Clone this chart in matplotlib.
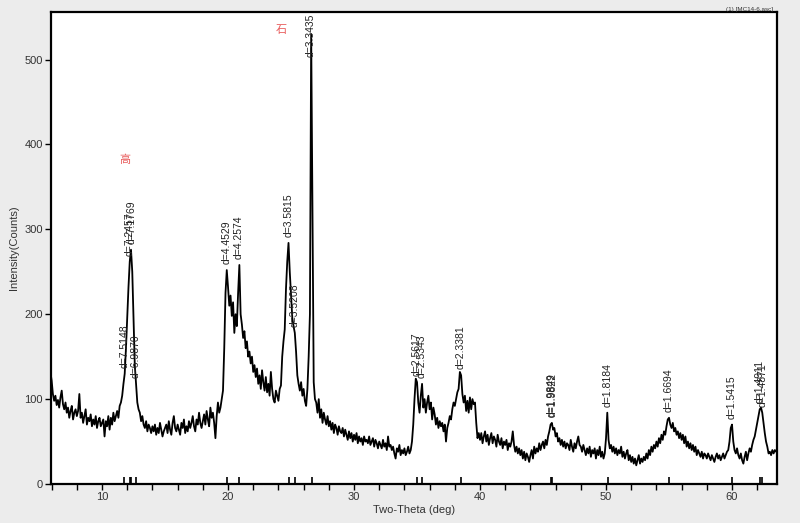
import numpy as np
import matplotlib
matplotlib.use("Agg")
import matplotlib.pyplot as plt
from matplotlib.ticker import MultipleLocator

plt.rcParams['font.family'] = ['Liberation Sans', 'Noto Sans CJK SC', 'DejaVu Sans']

# XRD scan: start angle, step and counts
start_angle = 5.9
step = 0.1
counts = [
    132,                                                # 5.9
    122, 106, 98, 104, 93, 99, 90, 102, 110, 94,        # 6.0
    88, 96, 84, 90, 78, 86, 92, 76, 84, 88,             # 7.0
    80, 86, 106, 78, 84, 72, 80, 88, 70, 78,            # 8.0
    74, 82, 68, 76, 70, 80, 66, 74, 78, 68,             # 9.0
    72, 76, 56, 74, 68, 80, 64, 78, 70, 84,             # 10.0
    74, 80, 86, 78, 92, 96, 104, 118, 130, 160,         # 11.0
    196, 232, 262, 276, 250, 196, 140, 118, 96, 88,     # 12.0
    84, 74, 80, 70, 66, 74, 62, 70, 66, 60,             # 13.0
    68, 62, 70, 58, 66, 60, 72, 64, 56, 62,             # 14.0
    66, 70, 60, 74, 64, 58, 72, 80, 66, 62,             # 15.0
    70, 64, 58, 72, 66, 76, 60, 68, 62, 74,             # 16.0
    66, 72, 80, 68, 62, 76, 70, 84, 72, 66,             # 17.0
    74, 82, 70, 86, 76, 68, 90, 78, 84, 72,             # 18.0
    54, 80, 96, 84, 90, 100, 110, 160, 225, 252,        # 19.0
    232, 210, 222, 198, 214, 178, 200, 186, 225, 258,   # 20.0
    200, 188, 172, 180, 160, 168, 150, 156, 142, 150,   # 21.0
    132, 140, 126, 136, 118, 128, 112, 134, 120, 110,   # 22.0
    126, 108, 118, 104, 132, 112, 100, 96, 110, 104,    # 23.0
    98, 112, 116, 150, 168, 182, 230, 262, 284, 250,    # 24.0
    222, 196, 186, 178, 156, 128, 118, 110, 120, 104,   # 25.0
    112, 98, 92, 112, 150, 200, 530, 320, 120, 100,     # 26.0
    96, 84, 100, 78, 88, 72, 84, 76, 70, 80,            # 27.0
    68, 74, 64, 72, 60, 70, 66, 58, 68, 62,             # 28.0
    60, 66, 56, 64, 58, 52, 62, 54, 60, 50,             # 29.0
    58, 52, 60, 48, 56, 50, 54, 46, 56, 50,             # 30.0
    52, 48, 56, 46, 50, 54, 44, 52, 48, 42,             # 31.0
    50, 46, 42, 52, 44, 48, 40, 56, 44, 46,             # 32.0
    40, 44, 36, 30, 42, 38, 46, 34, 40, 36,             # 33.0
    42, 34, 38, 44, 36, 40, 50, 70, 100, 124,           # 34.0
    120, 96, 84, 104, 118, 90, 100, 84, 96, 104,        # 35.0
    88, 96, 76, 90, 82, 70, 78, 66, 74, 68,             # 36.0
    72, 62, 70, 50, 66, 72, 80, 76, 88, 96,             # 37.0
    92, 100, 108, 112, 132, 128, 106, 96, 104, 86,      # 38.0
    98, 84, 102, 88, 100, 94, 96, 72, 54, 60,           # 39.0
    52, 60, 48, 56, 62, 50, 58, 46, 54, 60,             # 40.0
    48, 56, 52, 44, 58, 50, 46, 54, 42, 50,             # 41.0
    46, 52, 40, 48, 44, 50, 62, 46, 38, 44,             # 42.0
    36, 42, 34, 40, 30, 38, 28, 36, 32, 26,             # 43.0
    34, 40, 30, 44, 36, 42, 38, 48, 40, 46,             # 44.0
    50, 42, 52, 46, 56, 62, 70, 72, 64, 66,             # 45.0
    56, 60, 50, 54, 46, 52, 44, 50, 42, 48,             # 46.0
    46, 40, 52, 44, 38, 48, 42, 50, 56, 46,             # 47.0
    44, 38, 46, 40, 34, 42, 36, 44, 32, 40,             # 48.0
    36, 42, 30, 40, 34, 44, 32, 38, 30, 36,             # 49.0
    54, 84, 52, 42, 46, 38, 44, 36, 42, 34,             # 50.0
    40, 36, 44, 32, 38, 30, 36, 40, 28, 34,             # 51.0
    26, 32, 24, 30, 22, 28, 34, 24, 30, 26,             # 52.0
    32, 28, 36, 30, 40, 34, 44, 38, 46, 42,             # 53.0
    50, 44, 54, 48, 58, 52, 62, 58, 68, 76,             # 54.0
    78, 70, 66, 72, 62, 66, 58, 62, 54, 60,             # 55.0
    52, 58, 48, 56, 44, 50, 42, 48, 40, 46,             # 56.0
    38, 44, 34, 40, 36, 32, 38, 30, 36, 34,             # 57.0
    30, 36, 32, 28, 34, 30, 26, 32, 36, 30,             # 58.0
    34, 28, 32, 36, 30, 34, 38, 40, 50, 66,             # 59.0
    70, 50, 40, 36, 42, 34, 30, 36, 28, 24,             # 60.0
    32, 38, 28, 36, 42, 38, 46, 52, 56, 64,             # 61.0
    72, 80, 88, 90, 84, 72, 60, 50, 44, 36,             # 62.0
    38, 34, 40, 36, 40, 38, 40,                         # 63.0
]

# labelled peaks (2-theta, d-spacing text)
peak_pos = [11.77, 12.21, 12.32, 12.66, 19.92, 20.85, 24.84, 25.28, 26.64,
            35.00, 35.39, 38.47, 45.67, 45.74, 50.13, 54.96, 59.96, 62.21, 62.39]
peak_text = ['d=7.5148', 'd=7.2457', 'd=7.1769', 'd=6.9870', 'd=4.4529', 'd=4.2574',
             'd=3.5815', 'd=3.5208', 'd=3.3435', 'd=2.5617', 'd=2.5343', 'd=2.3381',
             'd=1.9849', 'd=1.9822', 'd=1.8184', 'd=1.6694', 'd=1.5415', 'd=1.4911',
             'd=1.4871']

# phase marks in red
phase_text = ['高', '石']
phase_x = [11.82, 24.2]
phase_y = [382, 535]

counts = np.array(counts, dtype=float)
angles = start_angle + step * np.arange(len(counts))

fig = plt.figure(figsize=(8, 5.23), dpi=100, facecolor='#ececec')
ax = fig.add_axes([51 / 800, 1 - 484 / 523, 726 / 800, 472 / 523])
ax.set_facecolor('white')

ax.plot(angles, counts, color='black', lw=1.3)

xmin, xmax, ymin, ymax = 5.95, 63.57, 0, 556
ax.set_xlim(xmin, xmax)
ax.set_ylim(ymin, ymax)

# peak marks on the bottom axis
ax.vlines(peak_pos, 0, 8, color='black', lw=1.2)

for pos, txt in zip(peak_pos, peak_text):
    near = np.abs(angles - pos) <= 0.05
    top = counts[near].max() if near.any() else np.interp(pos, angles, counts)
    y = top + 7
    if y + 58 > ymax:
        ax.text(pos - 0.12, ymax - 2, txt, rotation=90, ha='center', va='top',
                fontsize=7.5, color='#222222')
    else:
        ax.text(pos, y, txt, rotation=90, ha='center', va='bottom',
                fontsize=7.5, color='#222222')

for t, x, y in zip(phase_text, phase_x, phase_y):
    ax.text(x, y, t, ha='center', va='center', fontsize=8, color='#e85a5a',
            family=['Noto Sans CJK SC'])

ax.xaxis.set_major_locator(MultipleLocator(10))
ax.xaxis.set_minor_locator(MultipleLocator(2))
ax.yaxis.set_major_locator(MultipleLocator(100))
ax.tick_params(axis='both', which='major', direction='out', length=4, width=1,
               labelsize=8, labelcolor='#333333', pad=2)
ax.tick_params(axis='x', which='minor', direction='out', length=4, width=1)

for sp in ax.spines.values():
    sp.set_linewidth(1.6)
    sp.set_color('black')

ax.set_xlabel('Two-Theta (deg)', fontsize=8, color='#333333', labelpad=2)
ax.set_ylabel('Intensity(Counts)', fontsize=8, color='#333333', labelpad=4)

fig.text(773 / 800, 1 - 9 / 523, '(1) [MC14-6.asc]', ha='right', va='center',
         fontsize=4.5, color='#333333')

fig.savefig('out.png', dpi=100, facecolor=fig.get_facecolor())
